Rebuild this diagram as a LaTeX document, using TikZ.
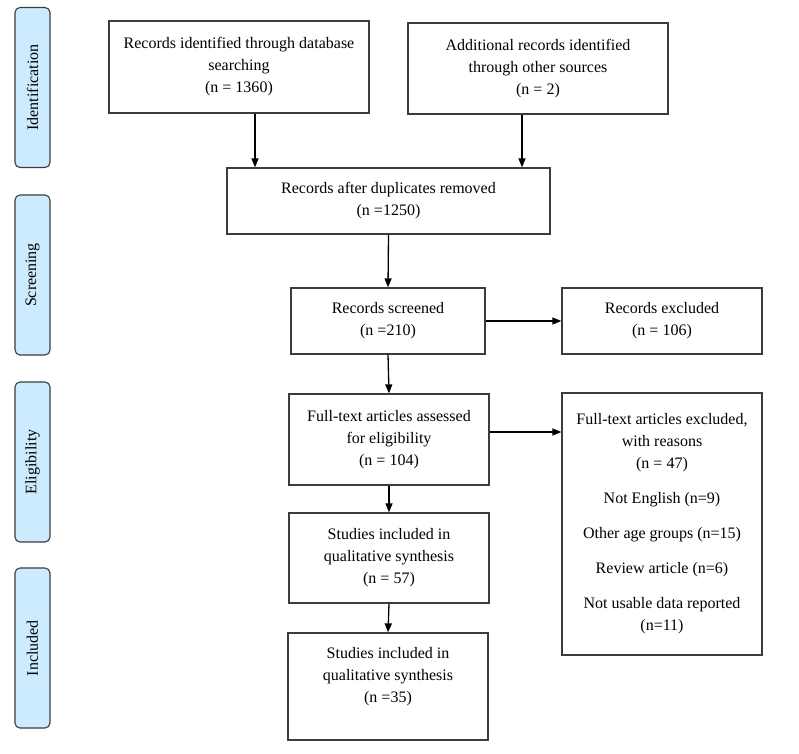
\documentclass[tikz,border=0pt]{standalone}
\usepackage{fontspec}
\setmainfont{Liberation Serif}
\usetikzlibrary{arrows.meta}
\definecolor{tabblue}{RGB}{204,235,255}
\definecolor{edgegray}{RGB}{60,60,60}

\begin{document}
\begin{tikzpicture}[x=1pt,y=-1pt,
	box/.style={draw=edgegray,line width=1.3pt,align=center,inner sep=0,font=\fontsize{16}{22}\selectfont},
	tab/.style={draw=edgegray,line width=1.1pt,fill=tabblue,rounded corners=5pt,rotate=90,minimum width=160pt,minimum height=35pt,inner sep=0,font=\fontsize{16}{22}\selectfont},
	arr/.style={-{Triangle[length=9pt,width=7pt]},line width=1.3pt}]
	\useasboundingbox (0,0) rectangle (799,753);
	\node[tab] (t1) at (32.5,87.5) {Identification};
	\node[tab] (t2) at (32.5,275) {Screening};
	\node[tab] (t3) at (32.5,462) {Eligibility};
	\node[tab] (t4) at (32.5,648) {Included};
	\node[box,minimum width=260pt,minimum height=92pt] (b1) at (239,67) {Records identified through database\\ searching\\ (n = 1360)};
	\node[box,minimum width=260pt,minimum height=91pt] (b2) at (538,68.5) {Additional records identified\\ through other sources\\ (n = 2)};
	\node[box,minimum width=323pt,minimum height=66pt] (b3) at (388.5,201) {Records after duplicates removed\\ (n =1250)};
	\node[box,minimum width=194pt,minimum height=66pt] (b4) at (388,321) {Records screened\\ (n =210)};
	\node[box,minimum width=200pt,minimum height=66pt] (b5) at (662,321) {Records excluded\\ (n = 106)};
	\node[box,minimum width=200pt,minimum height=91pt] (b6) at (389,439.5) {Full-text articles assessed\\ for eligibility\\ (n = 104)};
	\node[box,minimum width=200pt,minimum height=262pt] (b7) at (662,524) {Full-text articles excluded,\\ with reasons\\ (n = 47)\\[13pt] Not English (n=9)\\[13pt] Other age groups (n=15)\\[13pt] Review article (n=6)\\[13pt] Not usable data reported\\ (n=11)};
	\node[box,minimum width=200pt,minimum height=90pt] (b8) at (389,558) {Studies included in\\ qualitative synthesis\\ (n = 57)};
	\node[box,minimum width=200pt,minimum height=107pt,text depth=24pt] (b9) at (388,686.5) {Studies included in\\ qualitative synthesis\\ (n =35)};
	\draw[arr] ([xshift=16pt]b1.south) -- ([xshift=16pt]b1.south |- b3.north);
	\draw[arr] ([xshift=-16pt]b2.south) -- ([xshift=-16pt]b2.south |- b3.north);
	\draw[arr] (b3.south) -- (b4.north);
	\draw[arr] (b4.east) -- (b5.west);
	\draw[arr] (b4.south) -- (b6.north);
	\draw[arr] ([yshift=7.5pt]b6.east) -- ([yshift=7.5pt]b6.east -| b7.west);
	\draw[arr] (b6.south) -- (b8.north);
	\draw[arr] (b8.south) -- (b9.north);
\end{tikzpicture}
\end{document}
